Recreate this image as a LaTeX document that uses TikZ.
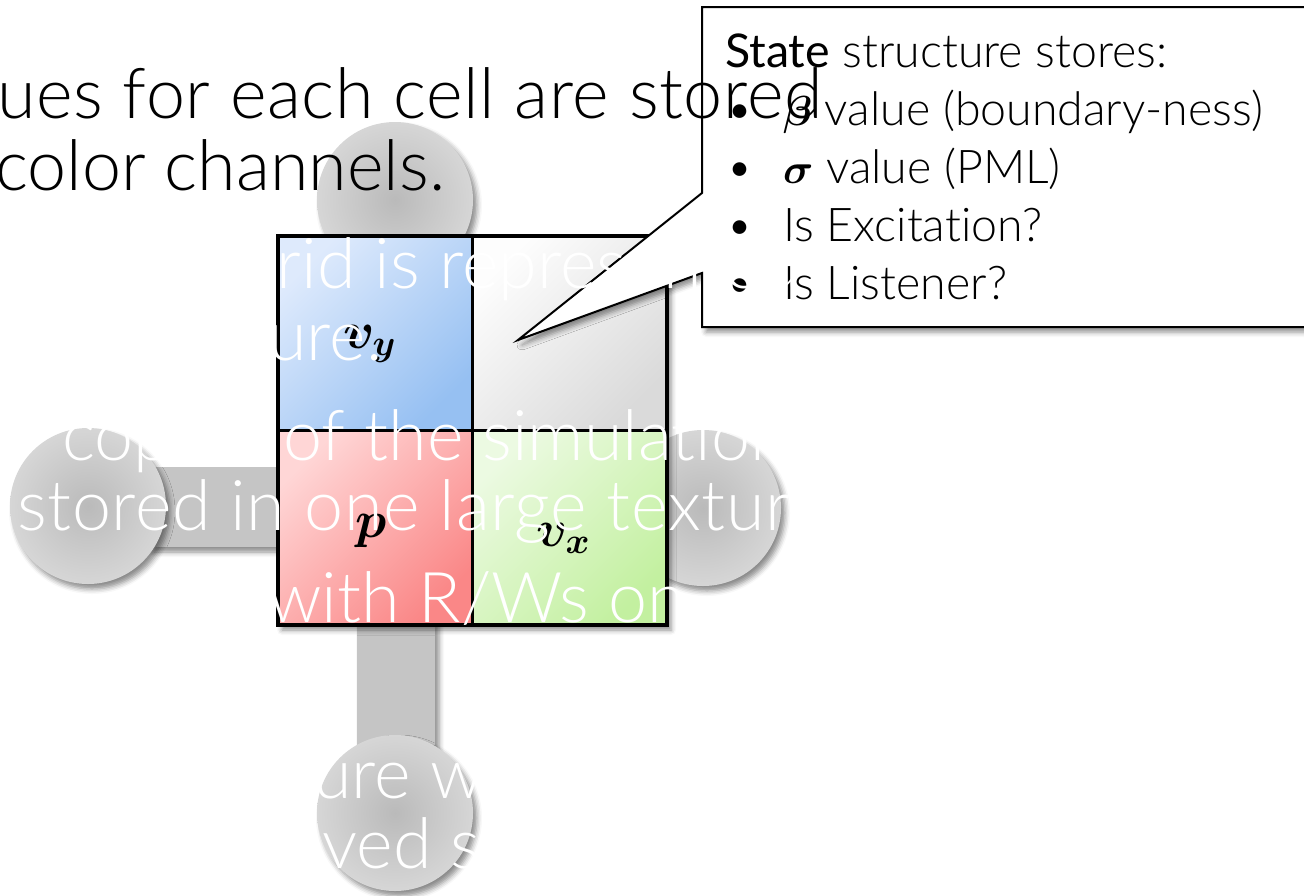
\RequirePackage{fix-cm}
\documentclass[tikz,border=0pt]{standalone}
\usepackage{fontspec}
\usepackage{amsmath,bm}
\usetikzlibrary{shadows.blur}
\newfontfamily\lightfont{Lato Light}[Ligatures=NoCommon]
\newfontfamily\regfont{Lato}[Ligatures=NoCommon]
\newfontfamily\lightwide{Lato Light}[Ligatures=NoCommon,LetterSpace=0.9]
\definecolor{discin}{RGB}{186,186,186}
\definecolor{discout}{RGB}{214,214,214}
\definecolor{barc}{RGB}{197,197,197}
\definecolor{bluetl}{RGB}{222,234,252}
\definecolor{bluebr}{RGB}{150,192,242}
\definecolor{graytl}{RGB}{253,253,253}
\definecolor{graybr}{RGB}{218,218,218}
\definecolor{redtl}{RGB}{255,214,214}
\definecolor{redbr}{RGB}{250,135,135}
\definecolor{greentl}{RGB}{236,250,226}
\definecolor{greenbr}{RGB}{195,240,160}
\newcommand{\cmath}[1]{{\fontsize{42}{42}\selectfont$\bm{#1}$}}
\begin{document}
\begin{tikzpicture}[x=1pt,y=-1pt,
  softshadow/.style={blur shadow={shadow xshift=4pt,shadow yshift=-5pt,shadow blur radius=5pt,shadow opacity=45}},
  disc/.style={shading=radial,inner color=discin,outer color=discout,softshadow},
  barshape/.style={fill=barc,softshadow},
  cell/.style={shading=axis,shading angle=45},
  wtxt/.style={anchor=base west,inner sep=0pt,text=white,font=\lightfont\fontsize{70}{72}\selectfont},
  ttxt/.style={anchor=base west,inner sep=0pt,text=black,font=\lightfont\fontsize{70}{72}\selectfont},
  ctxt/.style={anchor=base west,inner sep=0pt,text=black,font=\lightfont\fontsize{46.5}{58}\selectfont},
  mlab/.style={anchor=base west,inner sep=0pt,text=black,font=\fontsize{52}{52}\selectfont},
]
\useasboundingbox (0,0) rectangle (1304,895);
% bars and discs
\path[barshape] (150,467) rectangle (280,547);
\path[barshape] (357,620) rectangle (435,745);
\path[disc] (395,200) circle[radius=78pt];
\path[disc] (88,506) circle[radius=78pt];
\path[disc] (703,508) circle[radius=78pt];
\path[disc] (395,813) circle[radius=78pt];
% grid
\path[fill=white,softshadow] (278,236) rectangle (667,625);
\path[cell,top color=bluetl,bottom color=bluebr,shading angle=45] (278,236) rectangle (472,430);
\path[cell,top color=graytl,bottom color=graybr,shading angle=45] (472,236) rectangle (667,430);
\path[cell,top color=redtl,bottom color=redbr,shading angle=45] (278,430) rectangle (472,625);
\path[cell,top color=greentl,bottom color=greenbr,shading angle=45] (472,430) rectangle (667,625);
\draw[line width=3pt] (472,236) -- (472,625) (278,430) -- (667,430);
\draw[line width=4pt] (278,236) rectangle (667,625);
\node[mlab] (vy) at (343,348) {$\bm{v}_{\bm{y}}$};
\node[mlab] (p) at (355,537) {$\bm{p}$};
\node[mlab] (vx) at (536,546) {$\bm{v}_{\bm{x}}$};
% callout
\path[draw=black,line width=2pt,fill=white,softshadow] (702,7) -- (1330,7) -- (1330,327) -- (702,327) -- (702,273) -- (518,340) -- (702,193) -- cycle;
\node[ctxt] (c0) at (725,67) {{\regfont State} structure stores:};
\node[ctxt] (b1) at (726,125) {\textbullet};
\node[ctxt] (b2) at (726,183) {\textbullet};
\node[ctxt] (b3) at (726,241) {\textbullet};
\node[ctxt] (b4) at (726,299) {\textbullet};
\node[ctxt] (c1) at (783,125) {\cmath{\beta} value (boundary-ness)};
\node[ctxt] (c2) at (783,183) {\cmath{\sigma} value (PML)};
\node[ctxt] (c3) at (783,241) {Is Excitation?};
\node[ctxt] (c4) at (783,299) {Is Listener?};
% title
\node[ttxt,font=\lightwide\fontsize{70}{72}\selectfont] (t1) at (-3,118) {ues for each cell are stored};
\node[ttxt] (t2) at (-5,190) {color channels.};
% white overlay text
\node[wtxt] (w1) at (241,288) {grid is represented};
\node[wtxt] (w2) at (268,360) {ure.};
\node[wtxt] (w3a) at (62,460) {cop};
\node[wtxt] (w3b) at (283,460) {of the simulation};
\node[wtxt,font=\lightwide\fontsize{70}{72}\selectfont] (w4) at (17,530) {stored in one large texture};
\node[wtxt] (w5) at (268,622) {with R/Ws on};
\node[wtxt] (w6) at (313,798) {ure w};
\node[wtxt] (w7) at (322,868) {ved s};
\end{tikzpicture}
\end{document}
